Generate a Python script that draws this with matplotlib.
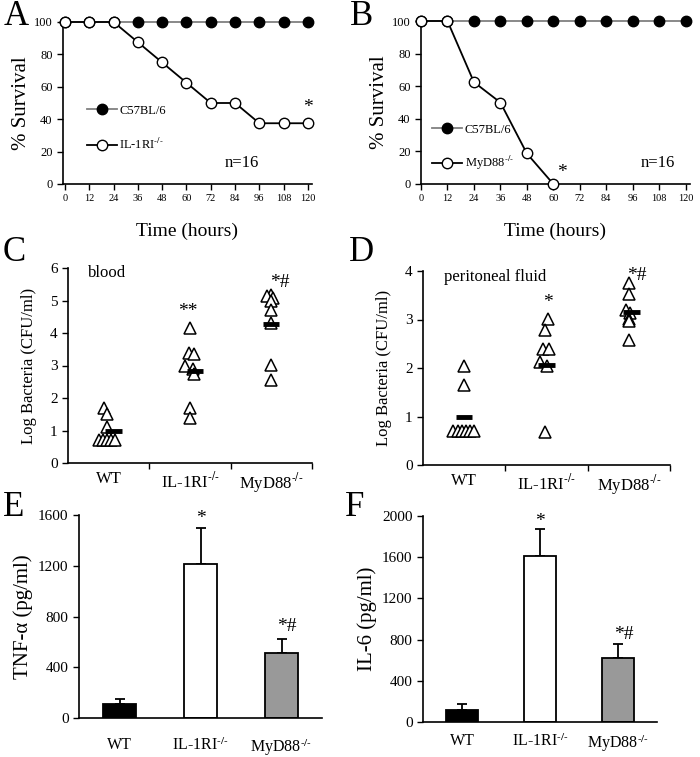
import numpy as np
import matplotlib
matplotlib.use("Agg")
from matplotlib import pyplot as plt

plt.rcParams['font.family'] = ['Liberation Serif', 'DejaVu Serif']
plt.rcParams['mathtext.fontset'] = 'stix'

# survival data (A, B)
time_h = [0, 12, 24, 36, 48, 60, 72, 84, 96, 108, 120]
surv_c57 = [100, 100, 100, 100, 100, 100, 100, 100, 100, 100, 100]
surv_il1ri = [100, 100, 100, 87.5, 75, 62.5, 50, 50, 37.5, 37.5, 37.5]
time_myd = [0, 12, 24, 36, 48, 60]
surv_myd88 = [100, 100, 62.5, 50, 18.75, 0]

sup = r'$^{\text{-/-}}$'
groups = ['WT', 'IL-1RI' + sup, 'MyD88' + sup]

# bacteria in blood (C): log CFU/ml, with horizontal jitter
blood_vals = [[1.7, 1.5, 1.1, 0.7, 0.7, 0.7, 0.7, 0.7],
              [4.15, 3.4, 3.35, 3.0, 2.9, 2.75, 1.7, 1.4],
              [5.18, 5.13, 5.08, 4.97, 4.72, 4.3, 3.03, 2.56]]
blood_jit = [[-0.06, -0.02, -0.02, -0.12, -0.07, -0.02, 0.03, 0.08],
             [0.0, -0.01, 0.05, -0.06, 0.04, 0.05, 0.0, 0.0],
             [-0.01, -0.05, 0.02, 0.0, 0.0, 0.0, 0.0, 0.0]]
blood_mean = [1.0, 2.83, 4.28]
blood_mean_off = [0.06, 0.06, 0.0]

# bacteria in peritoneal fluid (D)
pf_vals = [[2.05, 1.65, 0.7, 0.7, 0.7, 0.7, 0.7, 0.7],
           [3.02, 2.78, 2.4, 2.4, 2.13, 2.05, 0.69],
           [3.75, 3.53, 3.19, 3.13, 3.02, 2.97, 2.57]]
pf_jit = [[0.0, 0.0, -0.13, -0.08, -0.03, 0.02, 0.07, 0.12],
          [0.02, -0.02, -0.04, 0.03, -0.08, 0.0, -0.02],
          [0.0, 0.0, -0.04, 0.02, 0.0, 0.0, 0.0]]
pf_mean = [0.99, 2.07, 3.16]
pf_mean_off = [0.0, 0.0, 0.03]

# cytokines (E, F)
tnf = [110, 1214, 511]
tnf_err = [42, 281, 111]
il6 = [120, 1611, 622]
il6_err = [58, 259, 140]
bar_colors = ['black', 'white', '#999999']

W, H = 700, 757
fig = plt.figure(figsize=(W / 100, H / 100), dpi=100)


def px_axes(x0, x1, y0, y1):
    # y0 = bottom pixel row, y1 = top pixel row (from image top)
    return fig.add_axes([x0 / W, (H - y0) / H, (x1 - x0) / W, (y0 - y1) / H])


def style(ax):
    ax.spines['top'].set_visible(False)
    ax.spines['right'].set_visible(False)
    for s in ['left', 'bottom']:
        ax.spines[s].set_linewidth(1.2)
    ax.tick_params(direction='out', width=1.0, length=4)


def survival(ax, t2, s2, name2, xlim0, star_xy):
    style(ax)
    ax.plot(time_h, surv_c57, '-', color='#808080', lw=1.3, marker='o', ms=7.5,
            mfc='black', mec='black', label='C57BL/6', clip_on=False, zorder=3)
    ax.plot(t2, s2, '-', color='black', lw=1.3, marker='o', ms=7.5,
            mfc='white', mec='black', mew=1.0, label=name2, clip_on=False, zorder=4)
    ax.set_xlim(xlim0, 122)
    ax.set_ylim(0, 100)
    ax.set_xticks(time_h)
    ax.set_yticks([0, 20, 40, 60, 80, 100])
    ax.tick_params(axis='x', labelsize=7.5)
    ax.tick_params(axis='y', labelsize=9)
    ax.set_xlabel('Time (hours)', fontsize=14, labelpad=14)
    ax.set_ylabel('% Survival', fontsize=15, labelpad=2)
    ax.text(star_xy[0], star_xy[1], '*', fontsize=14, ha='center', va='center')


axA = px_axes(63, 312, 184, 22)
survival(axA, time_h, surv_il1ri, 'IL-1RI' + sup, -1, (120, 47))
axA.legend(loc='upper left', bbox_to_anchor=(0.05, 0.56), frameon=False,
           fontsize=9, handlelength=2.4, handletextpad=0.2, labelspacing=1.65,
           numpoints=1)
axA.text(0.72, 0.13, 'n=16', transform=axA.transAxes, fontsize=12,
         ha='center', va='center')

axB = px_axes(421, 690, 184, 21)
survival(axB, time_myd, surv_myd88, 'MyD88' + sup, 0, (64, 7))
axB.legend(loc='upper left', bbox_to_anchor=(0.0, 0.44), frameon=False,
           fontsize=9, handlelength=2.4, handletextpad=0.2, labelspacing=1.5,
           numpoints=1)
axB.text(0.88, 0.13, 'n=16', transform=axB.transAxes, fontsize=12,
         ha='center', va='center')


def scatter_panel(ax, vals, jit, means, moff, ymax, label, notes):
    style(ax)
    for i, (v, j) in enumerate(zip(vals, jit)):
        xs = np.array(j) + i + 1
        ax.plot(xs, v, linestyle='none', marker='^', ms=8.5, mfc='white',
                mec='black', mew=1.1, clip_on=False, zorder=3)
        ax.plot([i + 1 + moff[i] - 0.1, i + 1 + moff[i] + 0.1], [means[i], means[i]],
                color='black', lw=3.5, solid_capstyle='butt', zorder=4)
    ax.set_xlim(0.5, 3.5)
    ax.set_ylim(0, ymax)
    ax.set_yticks(range(ymax + 1))
    ax.set_xticks([1, 2, 3])
    ax.set_xticklabels(groups)
    ax.set_xticks([1.5, 2.5, 3.5], minor=True)
    ax.tick_params(axis='x', which='major', length=0, labelsize=12, pad=6)
    ax.tick_params(axis='x', which='minor', length=4, width=1.0)
    ax.tick_params(axis='y', labelsize=11)
    ax.set_ylabel('Log Bacteria (CFU/ml)', fontsize=12, labelpad=9)
    ax.text(label[1], label[2], label[0], fontsize=12, ha='left', va='center')
    for x, y, s in notes:
        ax.text(x, y, s, fontsize=14, ha='center', va='center')


axC = px_axes(68, 312, 463, 268)
scatter_panel(axC, blood_vals, blood_jit, blood_mean, blood_mean_off, 6,
              ('blood', 0.75, 5.85), [(1.97, 4.65, '**'), (3.1, 5.55, '*#')])

axD = px_axes(423, 670, 465, 271)
scatter_panel(axD, pf_vals, pf_jit, pf_mean, pf_mean_off, 4,
              ('peritoneal fluid', 0.75, 3.88), [(2.02, 3.35, '*'), (3.1, 3.9, '*#')])


def bar_panel(ax, vals, errs, ymax, step, ylab, notes, pad):
    style(ax)
    x = np.arange(1, 4)
    ax.bar(x, vals, width=0.41, color=bar_colors, edgecolor='black', lw=1.3, zorder=2)
    ax.errorbar(x, vals, yerr=[np.zeros(3), errs], fmt='none', ecolor='black',
                elinewidth=1.3, capsize=3.5, capthick=1.3, zorder=1)
    ax.set_xlim(0.5, 3.5)
    ax.set_ylim(0, ymax)
    ax.set_yticks(np.arange(0, ymax + 1, step))
    ax.set_xticks(x)
    ax.set_xticklabels(groups)
    ax.tick_params(axis='x', length=0, labelsize=11.5, pad=pad)
    ax.tick_params(axis='y', labelsize=11)
    ax.set_ylabel(ylab, fontsize=15)
    for xi, y, s in notes:
        ax.text(xi, y, s, fontsize=14, ha='center', va='center')


axE = px_axes(79, 322, 718, 515)
bar_panel(axE, tnf, tnf_err, 1600, 400, 'TNF-α (pg/ml)',
          [(2, 1570, '*'), (3.07, 720, '*#')], 14)

axF = px_axes(423, 657, 722, 516)
bar_panel(axF, il6, il6_err, 2000, 400, 'IL-6 (pg/ml)',
          [(2, 1950, '*'), (3.07, 850, '*#')], 8)

for s, x, y in [('A', 4, 25), ('B', 350, 25), ('C', 3, 261), ('D', 349, 261),
                ('E', 3, 516), ('F', 345, 516)]:
    fig.text(x / W, 1 - y / H, s, fontsize=25, ha='left', va='baseline')

fig.savefig('out.png', dpi=100)
